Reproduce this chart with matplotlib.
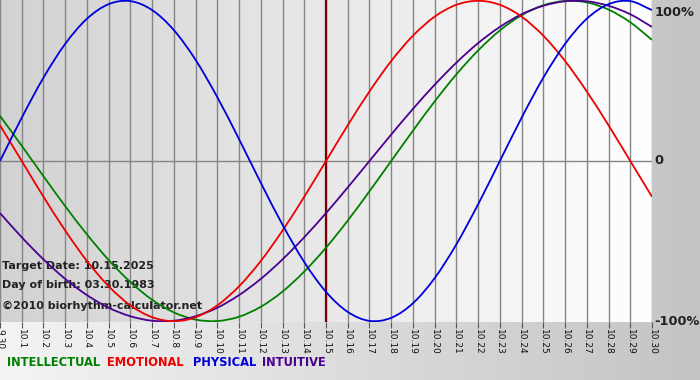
import numpy as np
import matplotlib.pyplot as plt
from matplotlib.path import Path
from matplotlib.patches import PathPatch
from matplotlib.colors import LinearSegmentedColormap

## data (one value per day, 9.30 .. 10.30)
days = list(range(31))
labels = ['9.30'] + ['10.%d' % i for i in range(1, 31)]

physical = [0, 0.270, 0.520, 0.731, 0.888, 0.979, 0.998, 0.942, 0.817, 0.631,
            0.398, 0.136, -0.136, -0.398, -0.631, -0.817, -0.942, -0.998, -0.979, -0.888,
            -0.731, -0.520, -0.270, 0, 0.270, 0.520, 0.731, 0.888, 0.979, 0.998, 0.942]
emotional = [0.223, 0, -0.223, -0.434, -0.624, -0.782, -0.901, -0.975, -1.0, -0.975,
             -0.901, -0.782, -0.624, -0.434, -0.223, 0, 0.223, 0.434, 0.624, 0.782,
             0.901, 0.975, 1.0, 0.975, 0.901, 0.782, 0.624, 0.434, 0.223, 0, -0.223]
intellectual = [0.282, 0.095, -0.095, -0.282, -0.458, -0.618, -0.756, -0.866, -0.945, -0.990,
                -0.999, -0.972, -0.910, -0.815, -0.690, -0.541, -0.372, -0.189, 0, 0.189,
                0.372, 0.541, 0.690, 0.815, 0.910, 0.972, 0.999, 0.990, 0.945, 0.866, 0.756]
intuitive = [-0.325, -0.476, -0.614, -0.736, -0.837, -0.916, -0.969, -0.997, -0.997, -0.969,
             -0.916, -0.837, -0.736, -0.614, -0.476, -0.325, -0.165, 0, 0.165, 0.325,
             0.476, 0.614, 0.736, 0.837, 0.916, 0.969, 0.997, 0.997, 0.969, 0.916, 0.837]

target_day = 15


def smooth_line(ax, x, y, color):
    # draw a smooth curve through the points (cubic bezier, catmull-rom tangents)
    x = np.asarray(x, float)
    y = np.asarray(y, float)
    pts = np.column_stack([x, y])
    m = np.zeros_like(pts)
    m[1:-1] = (pts[2:] - pts[:-2]) / 2
    m[0] = pts[1] - pts[0]
    m[-1] = pts[-1] - pts[-2]
    verts = [pts[0]]
    codes = [Path.MOVETO]
    for i in range(len(pts) - 1):
        verts += [pts[i] + m[i] / 3, pts[i + 1] - m[i + 1] / 3, pts[i + 1]]
        codes += [Path.CURVE4] * 3
    ax.add_patch(PathPatch(Path(verts, codes), fill=False, edgecolor=color, lw=1.3, zorder=3))


fig = plt.figure(figsize=(7, 3.8), dpi=100)

##background gradient of the whole picture
grad = np.linspace(0, 1, 256).reshape(1, -1)
bg = fig.add_axes([0, 0, 1, 1])
outer = LinearSegmentedColormap.from_list('outer', ['#f4f4f4', '#c4c4c4'])
bg.imshow(grad, aspect='auto', cmap=outer, extent=[0, 1, 0, 1])
bg.set_axis_off()

##plot area
ax = fig.add_axes([0, 1 - 322 / 380, 652 / 700, 322 / 380])
inner = LinearSegmentedColormap.from_list('inner', ['#d2d2d2', '#ffffff'])
ax.imshow(grad, aspect='auto', cmap=inner, extent=[0, 30, -1.005, 1.005], zorder=0)
ax.set_xlim(0, 30)
ax.set_ylim(-1.005, 1.005)

for d in days:
    ax.axvline(d, color='#858585', lw=1.0, zorder=1)
ax.axhline(0, color='#858585', lw=1.0, zorder=1)
ax.axvline(target_day, color='#7a0000', lw=1.6, zorder=2)

ax.text(0.1, -0.655, 'Target Date: 10.15.2025', fontsize=8, fontweight='bold', color='#222222', va='center', zorder=2)
ax.text(0.1, -0.774, 'Day of birth: 03.30.1983', fontsize=8, fontweight='bold', color='#222222', va='center', zorder=2)
ax.text(0.1, -0.905, '\u00a92010 biorhythm-calculator.net', fontsize=8, fontweight='bold', color='#222222', va='center', zorder=2)

smooth_line(ax, days, intellectual, '#008000')
smooth_line(ax, days, intuitive, '#4b0090')
smooth_line(ax, days, emotional, '#ee0000')
smooth_line(ax, days, physical, '#0000dd')

ax.set_xticks(days)
ax.set_xticklabels(labels, rotation=270, fontsize=6.5, color='#111111')
ax.tick_params(axis='x', length=4, width=0.8, color='#555555', pad=1)
ax.set_yticks([])
for s in ax.spines.values():
    s.set_visible(False)

##right labels
for y, t in [(0.93, '100%'), (0, '0'), (-1.0, '-100%')]:
    ax.text(30.12, y, t, fontsize=9.3, fontweight='bold', color='#222222',
            va='center', ha='left', clip_on=False)

##legend line
ly = 1 - 362 / 380
fig.text(7 / 700, ly, 'INTELLECTUAL', color='#008000', fontsize=8.3, fontweight='bold', va='center')
fig.text(107 / 700, ly, 'EMOTIONAL', color='#ee0000', fontsize=8.3, fontweight='bold', va='center')
fig.text(193 / 700, ly, 'PHYSICAL', color='#0000dd', fontsize=8.3, fontweight='bold', va='center')
fig.text(262 / 700, ly, 'INTUITIVE', color='#4b0090', fontsize=8.3, fontweight='bold', va='center')

fig.savefig('out.png', dpi=100)
